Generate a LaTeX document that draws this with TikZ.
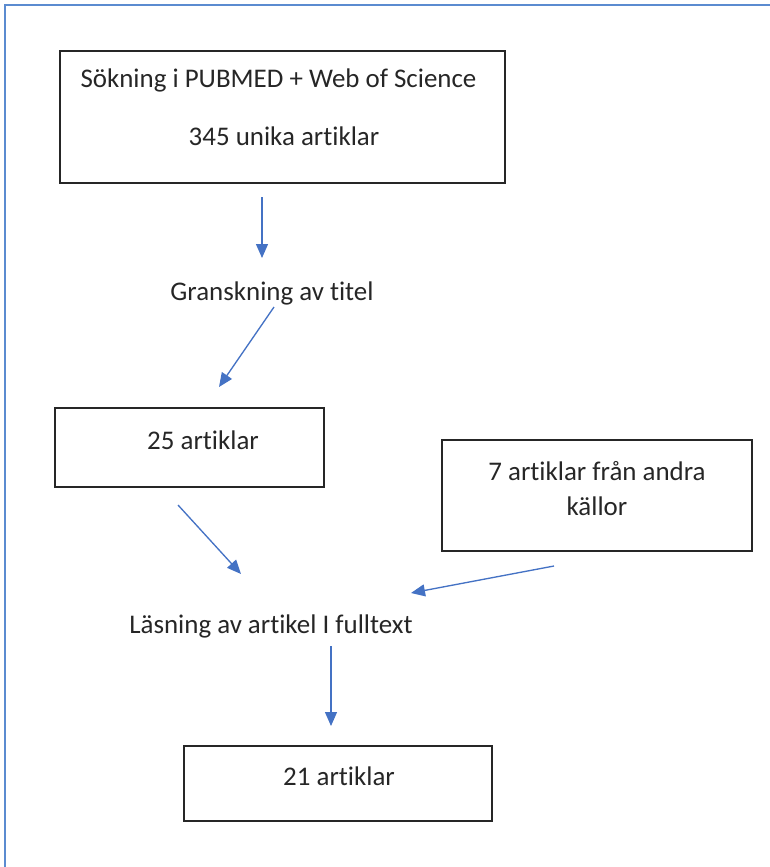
\documentclass[tikz,border=0pt]{standalone}
\usepackage{fontspec}
\setmainfont{Carlito}[RawFeature={-liga}]
\usetikzlibrary{arrows.meta}
\definecolor{arrowblue}{HTML}{4472C4}
\definecolor{frameblue}{HTML}{5B8BD0}
\tikzset{
  box/.style={draw=black!85, line width=1.2pt, inner sep=0pt},
  lbl/.style={font=\fontsize{20.2}{24}\selectfont, inner sep=0pt, text=black!85},
  flow/.style={draw=arrowblue, line width=1pt, -{Triangle[length=10.5pt, width=9pt]}},
}
\begin{document}
\begin{tikzpicture}[x=0.75pt, y=-0.75pt]
\useasboundingbox (0,0) rectangle (770,867);
\draw[frameblue, line width=1.5pt] (5,867) -- (5,5) -- (770,5);
% boxes
\node[box, minimum width=445*0.75pt, minimum height=132*0.75pt] (b1) at (282.5,117) {};
\node[box, minimum width=269*0.75pt, minimum height=79*0.75pt] (b2) at (189.5,447.5) {};
\node[box, minimum width=310*0.75pt, minimum height=111*0.75pt] (b3) at (597,495.5) {};
\node[box, minimum width=308*0.75pt, minimum height=75*0.75pt] (b4) at (338,783.5) {};
% texts
\node[lbl] (t1a) at (278.5,80) {Sökning i PUBMED + Web of Science};
\node[lbl] (t1b) at (284,136) {345 unika artiklar};
\node[lbl] (t2) at (203,440) {25 artiklar};
\node[lbl] (t3a) at (597,471) {7 artiklar från andra};
\node[lbl] (t3b) at (597,506) {källor};
\node[lbl] (t4) at (339,776) {21 artiklar};
\node[lbl] (g) at (272,293) {Granskning av titel};
\node[lbl] (l) at (271,626) {Läsning av artikel I fulltext};
% arrow end points
\coordinate (a1s) at (262,197); \coordinate (a1e) at (262,258);
\coordinate (a2s) at (274,307); \coordinate (a2e) at (219,387);
\coordinate (a3s) at (178,505); \coordinate (a3e) at (241,574);
\coordinate (a4s) at (554,566); \coordinate (a4e) at (411,593);
\coordinate (a5s) at (331,646); \coordinate (a5e) at (331,726);
\draw[flow] (a1s) -- (a1e);
\draw[flow] (a2s) -- (a2e);
\draw[flow] (a3s) -- (a3e);
\draw[flow] (a4s) -- (a4e);
\draw[flow] (a5s) -- (a5e);
\end{tikzpicture}
\end{document}
